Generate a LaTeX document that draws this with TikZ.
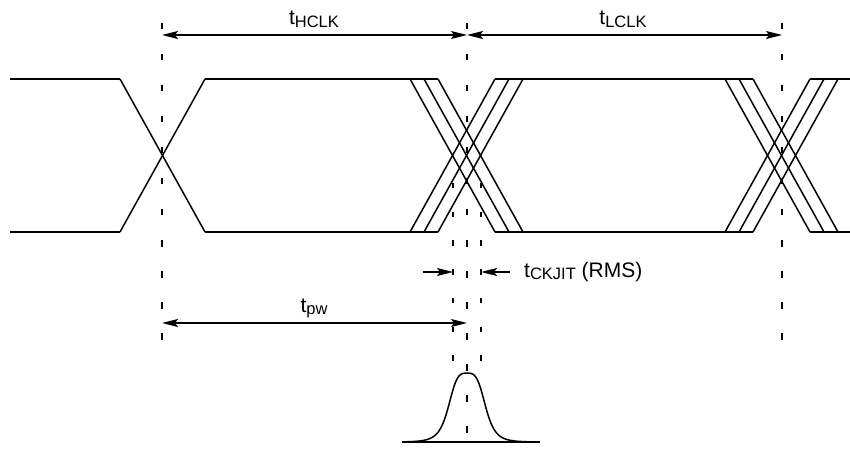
\documentclass[tikz,border=0pt]{standalone}
\usepackage{fontspec}
\setmainfont{Liberation Sans}
\usetikzlibrary{arrows.meta}
\newcommand{\tsub}[1]{t\raisebox{-2.5pt}{\fontsize{16.5}{16.5}\selectfont #1}}
\begin{document}
\begin{tikzpicture}[x=1pt,y=-1pt,
  wave/.style={line width=1.5pt, line join=miter},
  guide/.style={line width=1.8pt, dash pattern=on 6.5pt off 24.5pt},
  sguide/.style={line width=1.8pt, dash pattern=on 5.5pt off 23.2pt},
  dimboth/.style={line width=1.4pt, {Stealth[length=16pt,width=8pt,inset=3pt]}-{Stealth[length=16pt,width=8pt,inset=3pt]}},
  dimone/.style={line width=1.4pt, -{Stealth[length=16pt,width=8pt,inset=3pt]}},
  lbl/.style={font=\fontsize{21}{21}\selectfont, anchor=base, inner sep=0pt}]
\useasboundingbox (0,0) rectangle (850,454);

% guide lines
\draw[guide] (162,23) -- (162,341);
\draw[guide] (782,23) -- (782,341);
\draw[guide] (467,23) -- (467,453);
\draw[sguide] (453,183) -- (453,362);
\draw[sguide] (481,183) -- (481,362);

% waveform horizontal levels
\foreach \a/\b in {10/120, 205/438, 495/753, 810/850} {
  \draw[wave] (\a,79) -- (\b,79);
  \draw[wave] (\a,232) -- (\b,232);
}
% first crossing
\draw[wave] (120,79) -- (205,232);
\draw[wave] (120,232) -- (205,79);
% second crossing (three edges)
\foreach \d in {-28,-14,0} {
  \draw[wave] ({438+\d},79) -- ({523+\d},232);
  \draw[wave] ({438+\d},232) -- ({523+\d},79);
}
% third crossing
\foreach \d in {-28,-14,0} {
  \draw[wave] ({753+\d},79) -- ({838+\d},232);
  \draw[wave] ({753+\d},232) -- ({838+\d},79);
}

% period arrows
\coordinate (hL) at (162,35);
\coordinate (hM) at (467,35);
\coordinate (hR) at (782,35);
\draw[dimboth] (hM) -- (hL);
\draw[dimboth] (hM) -- (hR);
\node[lbl] (thclk) at (314,25) {\tsub{HCLK}};
\node[lbl] (tlclk) at (623,25) {\tsub{LCLK}};

% jitter arrows
\coordinate (jlA) at (423,272);
\coordinate (jlB) at (453,272);
\coordinate (jrA) at (510,272);
\coordinate (jrB) at (481,272);
\draw[dimone] (jlA) -- (jlB);
\draw[dimone] (jrA) -- (jrB);
\node[lbl, anchor=base west] (tjit) at (524,277) {\tsub{CKJIT} (RMS)};

% pulse width arrow
\coordinate (pL) at (162,323);
\coordinate (pR) at (467,323);
\draw[dimboth] (pL) -- (pR);
\node[lbl] (tpw) at (314,312) {\tsub{pw}};

% jitter distribution
\coordinate (gL) at (402,442);
\coordinate (gR) at (540,442);
\draw[wave] (gL) -- (gR);
\draw[wave] plot[domain=-60:60, samples=121, smooth]
  ({467+\x}, {442-69/(1+((\x/20)*(\x/20))*((\x/20)*(\x/20)))*exp(-(\x*\x)/(2*40*40))});
\end{tikzpicture}
\end{document}
